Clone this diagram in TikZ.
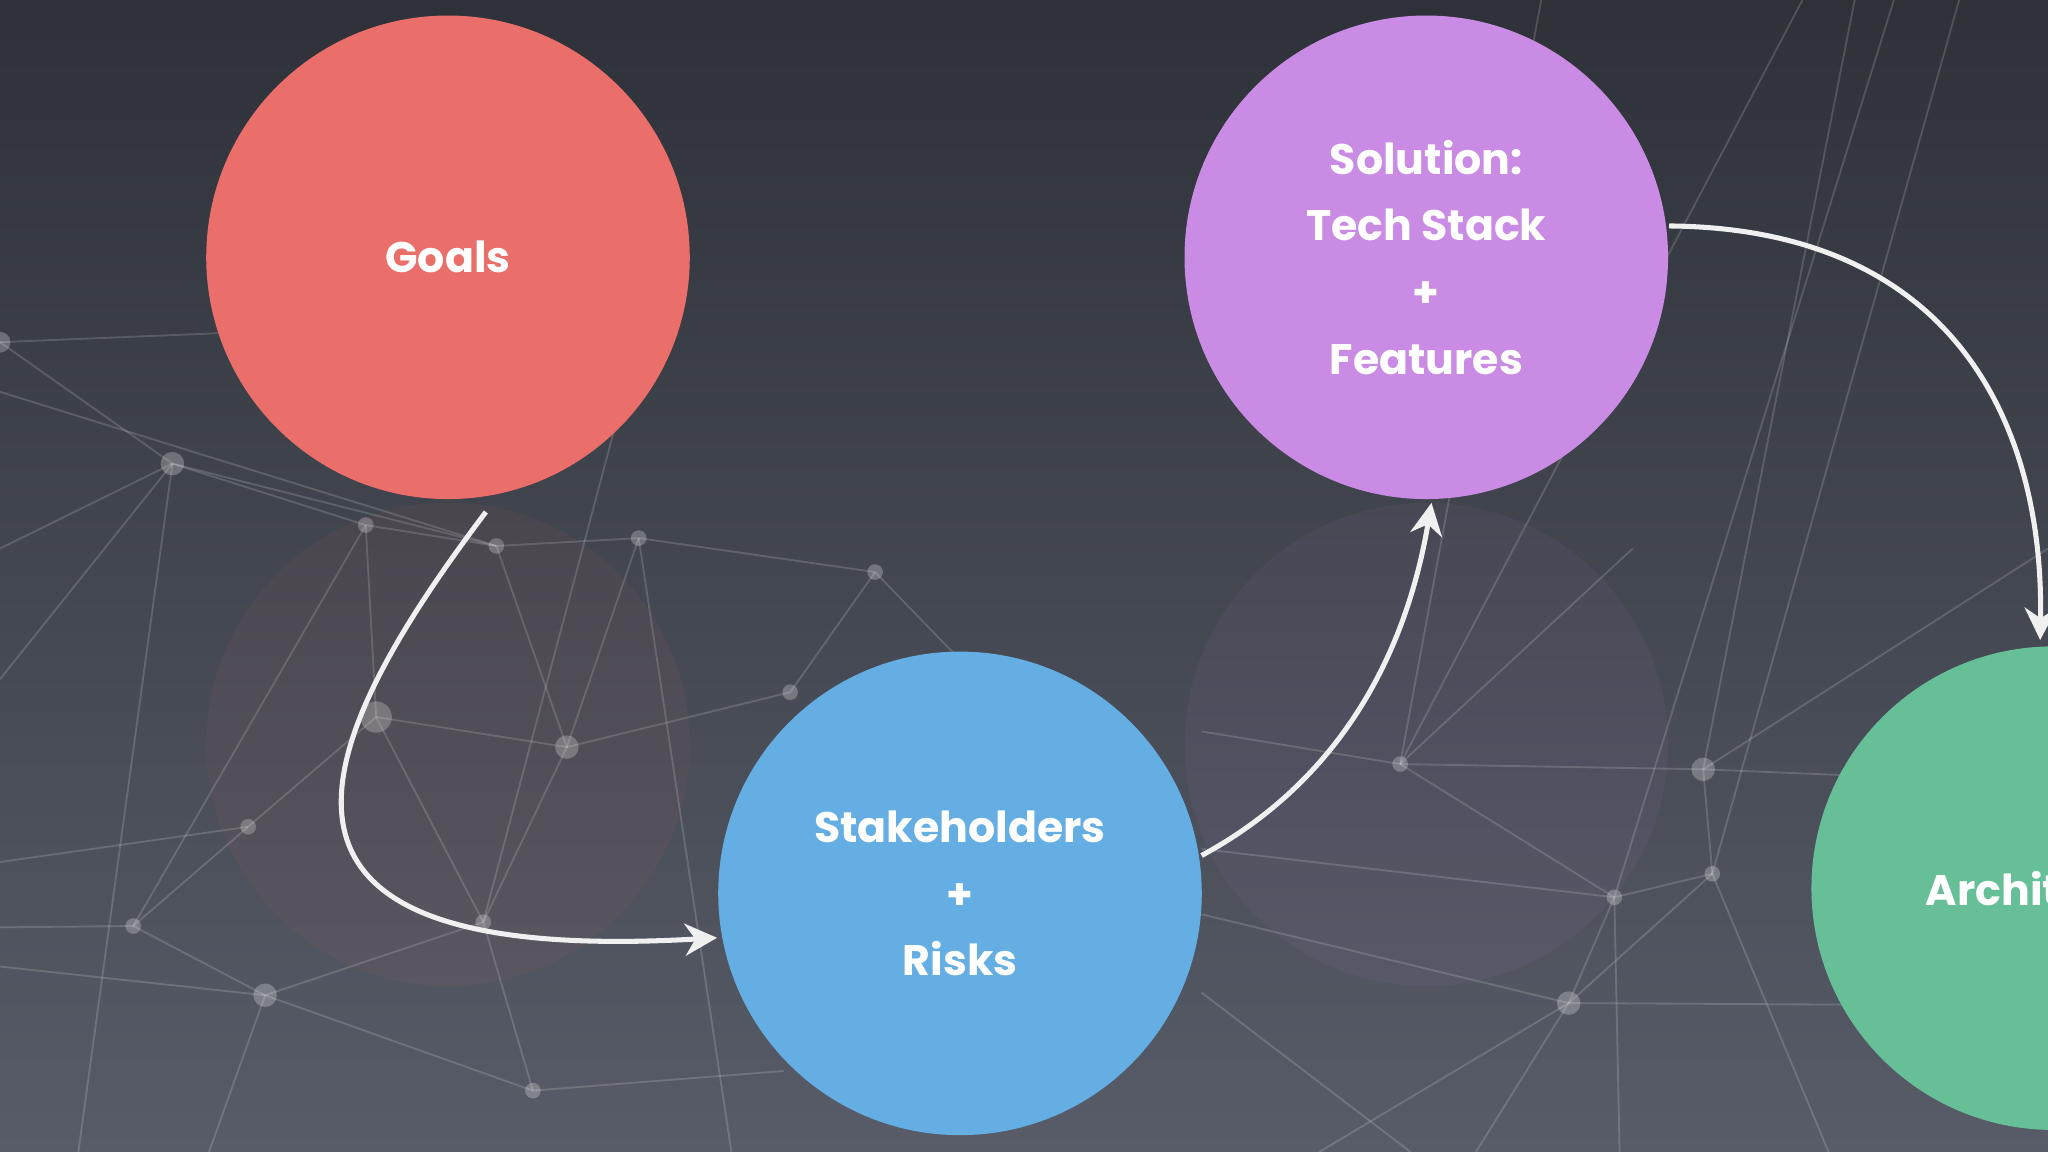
\documentclass[tikz,border=0pt]{standalone}
\usepackage{fontspec}
\setmainfont{Poppins}
\usetikzlibrary{arrows.meta}
\definecolor{bgtop}{HTML}{2E3138}
\definecolor{bgbot}{HTML}{575C68}
\definecolor{cgoal}{HTML}{EA6E6A}
\definecolor{csol}{HTML}{C98BE3}
\definecolor{cstake}{HTML}{64AEE4}
\definecolor{carch}{HTML}{66BF96}
\tikzset{
 bubble/.style={circle,minimum size=3.7cm,inner sep=0,text=white,align=center,font=\fontsize{9.3}{14.5}\selectfont},
 flow/.style={draw=white!88!gray,line width=1.1pt,-{Stealth[length=7pt,width=7pt]}},
 net/.style={draw=white,opacity=0.16,line width=0.4pt},
 dot/.style={fill=white,opacity=0.25}
}
\begin{document}
\begin{tikzpicture}[x=0.01cm,y=-0.01cm]
\useasboundingbox (0,0) rectangle (1568,882);
\clip (0,0) rectangle (1568,882);
\shade[top color=bgtop,bottom color=bgbot] (0,0) rectangle (1568,882);
% network
\foreach \a/\b/\r in {0/262/8,132/355/9,280/402/6,380/418/6,489/412/6,670/438/6,605/530/6,434/572/9,288/549/12,190/633/6,102/709/6,203/762/9,370/706/6,408/835/6,1072/585/6,1304/589/9,1311/669/6,1236/687/6,1201/768/9}{\fill[dot] (\a,\b) circle (\r);}
\foreach \p/\q in {{0,262}/{132,355},{0,262}/{170,255},{132,355}/{280,402},{132,355}/{0,420},{132,355}/{380,418},{280,402}/{380,418},{280,402}/{288,549},{280,402}/{102,709},{380,418}/{489,412},{380,418}/{434,572},{489,412}/{434,572},{489,412}/{670,438},{670,438}/{605,530},{605,530}/{434,572},{434,572}/{288,549},{434,572}/{370,706},{288,549}/{190,633},{288,549}/{370,706},{190,633}/{102,709},{190,633}/{0,660},{102,709}/{203,762},{203,762}/{370,706},{203,762}/{408,835},{370,706}/{408,835},{102,709}/{0,710},{203,762}/{160,882},{408,835}/{600,820},{380,418}/{0,300},{470,330}/{370,706},{0,520}/{132,355},{489,412}/{560,882},{670,438}/{730,500},{132,355}/{60,882},{0,740}/{203,762},{1072,585}/{1304,589},{1072,585}/{1236,687},{1304,589}/{1311,669},{1311,669}/{1236,687},{1236,687}/{1201,768},{1201,768}/{1311,669},{1201,768}/{1130,882},{1304,589}/{1420,0},{1304,589}/{1568,600},{1072,585}/{1380,0},{1236,687}/{1450,0},{1201,768}/{1568,770},{920,700}/{1201,768},{920,650}/{1236,687},{1072,585}/{920,560},{1311,669}/{1400,882},{1236,687}/{1240,882},{1201,768}/{1010,882},{1304,589}/{1568,420},{1180,0}/{1072,585},{1250,420}/{1072,585},{1500,0}/{1311,669},{920,760}/{1080,882}}{\draw[net] (\p) -- (\q);}
% faint reflections
\fill[cgoal,opacity=0.06] (343,570) circle (185);
\fill[csol,opacity=0.06] (1092,570) circle (185);
\node[bubble,fill=cgoal] (goals) at (343,197) {\bfseries Goals};
\node[bubble,fill=csol] (sol) at (1092,197) {\bfseries Solution:\\\bfseries Tech Stack\\\bfseries +\\\bfseries Features};
\node[bubble,fill=cstake] (stake) at (735,684) {\bfseries Stakeholders\\\bfseries +\\\bfseries Risks};
\node[bubble,fill=carch] (arch) at (1572,680) {};
\node[text=white,font=\fontsize{9.3}{14.5}\selectfont\bfseries,anchor=west] (archt) at (1462,680) {Architecture};
% connectors
\coordinate (g1) at (372,392);
\coordinate (s1) at (549,718);
\coordinate (s2) at (920,655);
\coordinate (t1) at (1096,385);
\coordinate (t2) at (1278,173);
\coordinate (a1) at (1562,490);
\draw[flow] (g1) .. controls (230,580) and (170,740) .. (s1);
\draw[flow] (s2) .. controls (1040,590) and (1080,480) .. (t1);
\draw[flow] (t2) .. controls (1500,175) and (1565,330) .. (a1);
\end{tikzpicture}
\end{document}
